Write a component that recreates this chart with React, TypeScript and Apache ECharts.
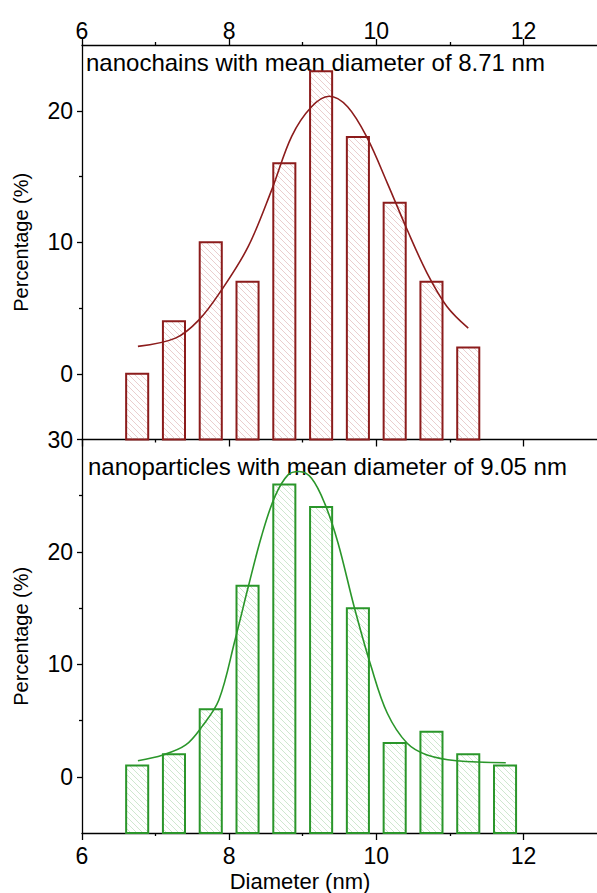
import React, { useEffect, useRef } from "react";
import * as echarts from "echarts";

// ---- data ----
const binCenters = [6.75, 7.25, 7.75, 8.25, 8.75, 9.25, 9.75, 10.25, 10.75, 11.25, 11.75];
const chainPct = [0, 4, 10, 7, 16, 23, 18, 13, 7, 2];
const particlePct = [1, 2, 6, 17, 26, 24, 15, 3, 4, 2, 1];

const chainFitX = [6.76, 7.27, 7.59, 7.9, 8.26, 8.58, 8.85, 9.12, 9.36, 9.61, 9.88, 10.15, 10.42, 10.69, 10.96, 11.25];
const chainFitY = [2.08, 2.71, 4.1, 6.39, 9.68, 14.0, 18.05, 20.3, 21.1, 20.3, 17.9, 14.5, 10.95, 7.66, 5.12, 3.47];

const particleFitX = [6.76, 7.1, 7.41, 7.63, 7.86, 8.08, 8.26, 8.44, 8.62, 8.8, 8.95, 9.12, 9.3, 9.48, 9.7, 9.93, 10.15, 10.42, 10.69, 11.09, 11.76];
const particleFitY = [1.43, 1.94, 2.83, 4.46, 6.83, 12.17, 16.9, 21.4, 24.9, 26.85, 27.15, 26.55, 24.3, 20.8, 15.1, 9.8, 5.65, 2.98, 1.94, 1.43, 1.25];

const xMajorTicks = [6, 8, 10, 12];
const xMinorTicks = [7, 9, 11];
const topYLabels = [0, 10, 20];
const topYMinor = [5, 15];
const bottomYLabels = [0, 10, 20, 30];
const bottomYMinor = [5, 15, 25];

const topTitle = "nanochains with mean diameter of 8.71 nm";
const bottomTitle = "nanoparticles with mean diameter of 9.05 nm";
const yName = "Percentage (%)";
const xName = "Diameter (nm)";

// ---- styles ----
const FONT = "'Liberation Sans', Arial, sans-serif";
const RED = "#8c1c1c";
const RED_HATCH = "#e8c8c8";
const GREEN = "#2a962a";
const GREEN_HATCH = "#c9e4c9";
const BAR_HALF = 0.15;
const Y_MIN = -5;
const HATCH_STEP = 6;
const TICK_FONT = 23;

function hatchBars(edge: string, hatch: string) {
  return (params: any, api: any) => {
    const x = api.value(0);
    const v = api.value(1);
    const pTop = api.coord([x - BAR_HALF, v]);
    const pBot = api.coord([x + BAR_HALF, Y_MIN]);
    const x0 = pTop[0], y0 = pTop[1], x1 = pBot[0], y1 = pBot[1];
    const children: any[] = [];
    const kMin = Math.ceil((y0 - x1) / HATCH_STEP) * HATCH_STEP;
    for (let k = kMin; k <= y1 - x0; k += HATCH_STEP) {
      const xs = Math.max(x0, y0 - k);
      const xe = Math.min(x1, y1 - k);
      if (xe > xs) {
        children.push({
          type: "line",
          shape: { x1: xs, y1: xs + k, x2: xe, y2: xe + k },
          style: { stroke: hatch, lineWidth: 0.9 },
        });
      }
    }
    children.push({
      type: "rect",
      shape: { x: x0, y: y0, width: x1 - x0, height: y1 - y0 },
      style: { fill: "none", stroke: edge, lineWidth: 2 },
    });
    return { type: "group", children };
  };
}

function xAxisDef(grid: number, position: string, values: number[], len: number, labels: boolean, line: boolean, margin = 8): any {
  return {
    type: "value",
    gridIndex: grid,
    position,
    min: 6,
    max: 13,
    axisLine: { show: line, onZero: false, lineStyle: { color: "#000", width: 1.3 } },
    axisTick: { show: true, customValues: values, length: len, lineStyle: { color: "#000", width: 1.3 } },
    axisLabel: labels
      ? { show: true, customValues: values, margin, fontSize: TICK_FONT, color: "#000", fontFamily: FONT }
      : { show: false },
    splitLine: { show: false },
  };
}

function yAxisDef(grid: number, max: number, values: number[], len: number, labels: boolean, line: boolean, name?: string): any {
  return {
    type: "value",
    gridIndex: grid,
    position: "left",
    min: Y_MIN,
    max,
    name: name || "",
    nameLocation: "middle",
    nameGap: 51,
    nameTextStyle: { fontSize: 20, color: "#000", fontFamily: FONT },
    axisLine: { show: line, onZero: false, lineStyle: { color: "#000", width: 1.3 } },
    axisTick: { show: true, customValues: values, length: len, lineStyle: { color: "#000", width: 1.3 } },
    axisLabel: labels
      ? { show: true, customValues: values, margin: 9, fontSize: TICK_FONT, color: "#000", fontFamily: FONT }
      : { show: false },
    splitLine: { show: false },
  };
}

export default function App() {
  const ref = useRef<HTMLDivElement>(null);
  useEffect(() => {
    if (!ref.current) return;
    const chart = echarts.init(ref.current, null, { renderer: "svg" });
    const chainBars = chainPct.map((v, i) => [binCenters[i], v]);
    const particleBars = particlePct.map((v, i) => [binCenters[i], v]);
    chart.setOption({
      animation: false,
      backgroundColor: "#fff",
      textStyle: { fontFamily: FONT },
      grid: [
        { left: 82, top: 45, width: 518, height: 394.5 },
        { left: 82, top: 439.5, width: 518, height: 393.5 },
      ],
      xAxis: [
        xAxisDef(0, "top", xMajorTicks, 6, true, true, 3),
        xAxisDef(0, "top", xMinorTicks, 3, false, false),
        xAxisDef(0, "bottom", xMajorTicks, 7, false, true),
        xAxisDef(0, "bottom", xMinorTicks, 3, false, false),
        xAxisDef(1, "bottom", xMajorTicks, 7, true, true, 11),
        xAxisDef(1, "bottom", xMinorTicks, 3, false, false),
      ],
      yAxis: [
        yAxisDef(0, 25, topYLabels, 5, true, true, yName),
        yAxisDef(0, 25, topYMinor, 3, false, false),
        yAxisDef(1, 30, bottomYLabels, 5, true, true, yName),
        yAxisDef(1, 30, bottomYMinor, 3, false, false),
      ],
      graphic: [
        {
          type: "text",
          x: 86,
          y: 62,
          style: { text: topTitle, fontSize: 24, fontFamily: FONT, fill: "#000", verticalAlign: "middle" },
        },
        {
          type: "text",
          x: 88,
          y: 466,
          style: { text: bottomTitle, fontSize: 24, fontFamily: FONT, fill: "#000", verticalAlign: "middle" },
        },
        {
          type: "text",
          x: 300,
          y: 881,
          style: { text: xName, fontSize: 22, fontFamily: FONT, fill: "#000", align: "center", verticalAlign: "middle" },
        },
      ],
      series: [
        {
          type: "custom",
          xAxisIndex: 0,
          yAxisIndex: 0,
          renderItem: hatchBars(RED, RED_HATCH),
          data: chainBars,
          z: 2,
        },
        {
          type: "line",
          xAxisIndex: 0,
          yAxisIndex: 0,
          data: chainFitX.map((x, i) => [x, chainFitY[i]]),
          smooth: 0.35,
          showSymbol: false,
          lineStyle: { color: RED, width: 1.6 },
          z: 3,
        },
        {
          type: "custom",
          xAxisIndex: 4,
          yAxisIndex: 2,
          renderItem: hatchBars(GREEN, GREEN_HATCH),
          data: particleBars,
          z: 2,
        },
        {
          type: "line",
          xAxisIndex: 4,
          yAxisIndex: 2,
          data: particleFitX.map((x, i) => [x, particleFitY[i]]),
          smooth: 0.35,
          showSymbol: false,
          lineStyle: { color: GREEN, width: 1.6 },
          z: 3,
        },
      ],
    });
    return () => chart.dispose();
  }, []);
  return (
    <div
      ref={ref}
      style={{ position: "absolute", left: 0, top: 0, width: 597, height: 893, background: "#fff" }}
    />
  );
}
